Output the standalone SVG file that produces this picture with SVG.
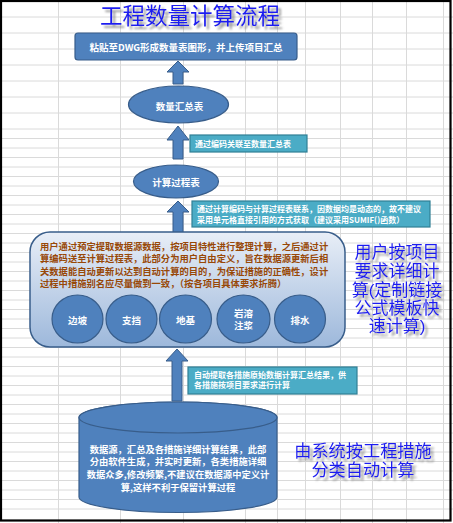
<svg xmlns="http://www.w3.org/2000/svg" width="453" height="523" viewBox="0 0 453 523">
<defs>
<linearGradient id="boxGrad" x1="0" y1="0" x2="0" y2="1">
<stop offset="0" stop-color="#e8eef7"/>
<stop offset="1" stop-color="#9db8db"/>
</linearGradient>
<filter id="shadow" x="-10%" y="-20%" width="130%" height="160%">
<feGaussianBlur in="SourceAlpha" stdDeviation="1.2"/>
<feOffset dx="2.5" dy="2.5" result="b"/>
<feFlood flood-color="#808080" flood-opacity="0.85"/>
<feComposite in2="b" operator="in" result="s"/>
<feMerge><feMergeNode in="s"/><feMergeNode in="SourceGraphic"/></feMerge>
</filter>
</defs>
<style>
.grid line{stroke:#dadada;stroke-width:1}
.shape{fill:#4f81bd;stroke:#385d8a;stroke-width:1.2}
.lbl{fill:#4bacc6;stroke:#2f7f95;stroke-width:1.2}
.arrow{fill:#4f81bd;stroke:#385d8a;stroke-width:1}
.w{fill:#ffffff;font-family:"Noto Sans CJK SC","Liberation Sans",sans-serif;font-weight:bold}
.wc{text-anchor:middle}
.brown{fill:#984807;font-family:"Noto Sans CJK SC","Liberation Sans",sans-serif;font-size:9.3px;font-weight:bold}
.blue{fill:#1c1cf0;font-family:"Liberation Sans","Noto Sans CJK SC",sans-serif;text-anchor:middle;filter:url(#shadow)}
</style>
<rect x="0" y="0" width="453" height="523" fill="#ffffff"/>
<g class="grid">
<line x1="58.5" y1="0" x2="58.5" y2="523"/>
<line x1="120.5" y1="0" x2="120.5" y2="523"/>
<line x1="183.5" y1="0" x2="183.5" y2="523"/>
<line x1="245.5" y1="0" x2="245.5" y2="523"/>
<line x1="277.5" y1="0" x2="277.5" y2="523"/>
<line x1="305.5" y1="0" x2="305.5" y2="523"/>
<line x1="340.5" y1="0" x2="340.5" y2="523"/>
<line x1="372.5" y1="0" x2="372.5" y2="523"/>
<line x1="406.5" y1="0" x2="406.5" y2="523"/>
<line x1="443.5" y1="0" x2="443.5" y2="523"/>
<line x1="0" y1="17" x2="453" y2="17"/>
<line x1="0" y1="33" x2="453" y2="33"/>
<line x1="0" y1="49" x2="453" y2="49"/>
<line x1="0" y1="65" x2="453" y2="65"/>
<line x1="0" y1="81" x2="453" y2="81"/>
<line x1="0" y1="97" x2="453" y2="97"/>
<line x1="0" y1="113" x2="453" y2="113"/>
<line x1="0" y1="129" x2="453" y2="129"/>
<line x1="0" y1="138.5" x2="453" y2="138.5"/>
<line x1="0" y1="148" x2="453" y2="148"/>
<line x1="0" y1="157.5" x2="453" y2="157.5"/>
<line x1="0" y1="167" x2="453" y2="167"/>
<line x1="0" y1="176.5" x2="453" y2="176.5"/>
<line x1="0" y1="186" x2="453" y2="186"/>
<line x1="0" y1="195.5" x2="453" y2="195.5"/>
<line x1="0" y1="205" x2="453" y2="205"/>
<line x1="0" y1="214.5" x2="453" y2="214.5"/>
<line x1="0" y1="224" x2="453" y2="224"/>
<line x1="0" y1="233.5" x2="453" y2="233.5"/>
<line x1="0" y1="243" x2="453" y2="243"/>
<line x1="0" y1="252.5" x2="453" y2="252.5"/>
<line x1="0" y1="262" x2="453" y2="262"/>
<line x1="0" y1="271.5" x2="453" y2="271.5"/>
<line x1="0" y1="281" x2="453" y2="281"/>
<line x1="0" y1="290.5" x2="453" y2="290.5"/>
<line x1="0" y1="300" x2="453" y2="300"/>
<line x1="0" y1="309.5" x2="453" y2="309.5"/>
<line x1="0" y1="319" x2="453" y2="319"/>
<line x1="0" y1="328.5" x2="453" y2="328.5"/>
<line x1="0" y1="338" x2="453" y2="338"/>
<line x1="0" y1="347.5" x2="453" y2="347.5"/>
<line x1="0" y1="357" x2="453" y2="357"/>
<line x1="0" y1="366.5" x2="453" y2="366.5"/>
<line x1="0" y1="376" x2="453" y2="376"/>
<line x1="0" y1="385.5" x2="453" y2="385.5"/>
<line x1="0" y1="395" x2="453" y2="395"/>
<line x1="0" y1="404.5" x2="453" y2="404.5"/>
<line x1="0" y1="414" x2="453" y2="414"/>
<line x1="0" y1="423.5" x2="453" y2="423.5"/>
<line x1="0" y1="433" x2="453" y2="433"/>
<line x1="0" y1="442.5" x2="453" y2="442.5"/>
<line x1="0" y1="452" x2="453" y2="452"/>
<line x1="0" y1="461.5" x2="453" y2="461.5"/>
<line x1="0" y1="471" x2="453" y2="471"/>
<line x1="0" y1="480.5" x2="453" y2="480.5"/>
<line x1="0" y1="490" x2="453" y2="490"/>
<line x1="0" y1="499.5" x2="453" y2="499.5"/>
<line x1="0" y1="509" x2="453" y2="509"/>
</g>
<rect x="1" y="1" width="449.5" height="519.5" fill="none" stroke="#000000" stroke-width="2.2"/>

<g id="title">
<text class="blue" x="190" y="24" font-size="22.5">工程数量计算流程</text>
</g>

<g id="connectors">
<polygon class="arrow" points="178,61 189,72 183,72 183,84 173,84 173,72 167,72"/>
<polygon class="arrow" points="178,126 189,140 183,140 183,159 173,159 173,140 167,140"/>
<polygon class="arrow" points="178,201 189,212 183,212 183,233 173,233 173,212 167,212"/>
<polygon class="arrow" points="177,349 188,361 182,361 182,401 172,401 172,361 166,361"/>
</g>

<g id="node-upload">
<rect class="shape" x="75" y="33" width="222" height="27" rx="3"/>
<text class="w wc" x="186" y="50.5" font-size="9.5">粘贴至DWG形成数量表图形，并上传项目汇总</text>
</g>

<g id="node-summary">
<ellipse class="shape" cx="178.5" cy="104.5" rx="50" ry="18.5"/>
<text class="w wc" x="179.5" y="109.5" font-size="9.5">数量汇总表</text>
</g>

<g id="label-1">
<rect class="lbl" x="190" y="135" width="117" height="17"/>
<text class="w" x="195" y="146.5" font-size="8">通过编码关联至数量汇总表</text>
</g>

<g id="node-process">
<ellipse class="shape" cx="176" cy="181.5" rx="42.5" ry="16.5"/>
<text class="w wc" x="176" y="185.5" font-size="9.5">计算过程表</text>
</g>

<g id="label-2">
<rect class="lbl" x="192" y="201" width="238" height="26"/>
<text class="w" x="197" y="211.5" font-size="8">通过计算编码与计算过程表联系，因数据均是动态的，故不建议</text>
<text class="w" x="197" y="222.5" font-size="8">采用单元格直接引用的方式获取（建议采用SUMIF()函数）</text>
</g>

<g id="node-user">
<rect x="30" y="232" width="315" height="115" rx="20" fill="url(#boxGrad)" stroke="#385d8a" stroke-width="1.5"/>
<text class="brown" x="40" y="249.5">用户通过预定提取数据源数据，按项目特性进行整理计算，之后通过计</text>
<text class="brown" x="40" y="262">算编码送至计算过程表，此部分为用户自由定义，旨在数据源更新后相</text>
<text class="brown" x="40" y="274.5">关数据能自动更新以达到自动计算的目的，为保证措施的正确性，设计</text>
<text class="brown" x="40" y="287">过程中措施别名应尽量做到一致，（按各项目具体要求折腾）</text>
</g>

<g id="node-slope">
<ellipse class="shape" cx="77.5" cy="319" rx="25.5" ry="24"/>
<text class="w wc" x="77.5" y="324" font-size="9.5">边坡</text>
</g>
<g id="node-retaining">
<ellipse class="shape" cx="131.5" cy="319" rx="25.5" ry="24"/>
<text class="w wc" x="131.5" y="324" font-size="9.5">支挡</text>
</g>
<g id="node-foundation">
<ellipse class="shape" cx="185.5" cy="319" rx="26" ry="24"/>
<text class="w wc" x="185.5" y="324" font-size="9.5">地基</text>
</g>
<g id="node-karst">
<ellipse class="shape" cx="243.5" cy="319" rx="26.5" ry="24"/>
<text class="w wc" x="243.5" y="316.5" font-size="9.5">岩溶</text>
<text class="w wc" x="243.5" y="329" font-size="9.5">注浆</text>
</g>
<g id="node-drainage">
<ellipse class="shape" cx="300" cy="319" rx="25.5" ry="24"/>
<text class="w wc" x="300" y="324" font-size="9.5">排水</text>
</g>

<g id="label-user">
<text class="blue" x="397" y="258" font-size="17">用户按项目</text>
<text class="blue" x="397" y="277" font-size="17">要求详细计</text>
<text class="blue" x="397" y="296" font-size="17">算(定制链接</text>
<text class="blue" x="397" y="314" font-size="17">公式模板快</text>
<text class="blue" x="397" y="332" font-size="17">速计算)</text>
</g>

<g id="label-3">
<rect class="lbl" x="188" y="367" width="169" height="27"/>
<text class="w" x="194" y="377.5" font-size="8">自动提取各措施原始数据计算汇总结果，供</text>
<text class="w" x="194" y="388" font-size="8">各措施按项目要求进行计算</text>
</g>

<g id="node-datasource">
<path class="shape" d="M79,417.5 L79,497 A99,15.5 0 0 0 277,497 L277,417.5 A99,15.5 0 0 0 79,417.5 Z"/>
<ellipse class="shape" cx="178" cy="417.5" rx="99" ry="15.5"/>
<text class="w wc" x="178" y="452.5" font-size="9.3">数据源，汇总及各措施详细计算结果，此部</text>
<text class="w wc" x="178" y="465.2" font-size="9.3">分由软件生成，并实时更新，各类措施详细</text>
<text class="w wc" x="178" y="477.9" font-size="9.3">数据众多,修改频繁,不建议在数据源中定义计</text>
<text class="w wc" x="178" y="490.6" font-size="9.3">算,这样不利于保留计算过程</text>
</g>

<g id="label-system">
<text class="blue" x="363" y="456.5" font-size="17.2">由系统按工程措施</text>
<text class="blue" x="363" y="475.5" font-size="17.2">分类自动计算</text>
</g>
</svg>
